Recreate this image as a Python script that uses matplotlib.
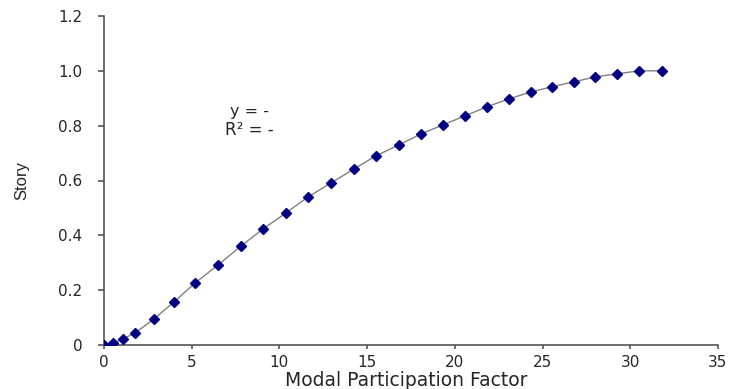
import matplotlib.pyplot as plt

plt.rcParams['font.family'] = ['DejaVu Sans']

# values
mpf = [0.0, 0.51, 1.08, 1.77, 2.85, 3.99, 5.19, 6.5, 7.81, 9.06, 10.38, 11.63,
       12.94, 14.25, 15.5, 16.82, 18.07, 19.33, 20.58, 21.84, 23.09, 24.34,
       25.54, 26.8, 27.99, 29.25, 30.5, 31.8]
story = [0.0, 0.007, 0.022, 0.044, 0.095, 0.157, 0.226, 0.292, 0.361, 0.423,
         0.482, 0.54, 0.591, 0.642, 0.69, 0.73, 0.77, 0.803, 0.836, 0.869,
         0.898, 0.923, 0.942, 0.96, 0.978, 0.989, 1.0, 1.0]
x_ticks = [0, 5, 10, 15, 20, 25, 30, 35]
y_ticks = [0, 0.2, 0.4, 0.6, 0.8, 1.0, 1.2]
y_labels = ['0', '0.2', '0.4', '0.6', '0.8', '1.0', '1.2']

fig = plt.figure(figsize=(7.31, 3.89), dpi=100)
ax = fig.add_axes([104 / 731, 1 - 345 / 389, 614 / 731, 329 / 389])

ax.plot(mpf, story, color='#808080', lw=1.0, zorder=2)
ax.plot(mpf, story, ls='none', marker='D', ms=5, color='#000080',
        markeredgecolor='#000080', zorder=3)

ax.set_xlim(0, 35)
ax.set_ylim(0, 1.2)
ax.set_xticks(x_ticks)
ax.set_yticks(y_ticks)
ax.set_yticklabels(y_labels)

for side in ['top', 'right']:
    ax.spines[side].set_visible(False)
for side in ['left', 'bottom']:
    ax.spines[side].set_color('#555555')
    ax.spines[side].set_linewidth(1.2)
ax.tick_params(axis='x', direction='out', length=3, width=1.2, color='#555555',
               labelsize=11, labelcolor='#262626', pad=4)
ax.tick_params(axis='y', direction='out', length=4.5, width=1.2, color='#555555',
               labelsize=11, labelcolor='#262626', pad=11)

ax.set_xlabel('Modal Participation Factor', fontsize=13.5, color='#262626')
ax.xaxis.label.set_va('baseline')
ax.xaxis.set_label_coords(0.493, -0.1246)

ax.set_ylabel('Story', fontsize=12, family=['Liberation Sans'], color='#262626')
ax.yaxis.label.set_va('center')
ax.yaxis.set_label_coords(-0.1336, 0.5)

ax.text(8.3, 0.850, 'y = -', ha='center', va='center', fontsize=11.5, color='#262626')
ax.text(8.3, 0.785, 'R² = -', ha='center', va='center', fontsize=12, color='#262626')

fig.savefig('out.png', dpi=100)
